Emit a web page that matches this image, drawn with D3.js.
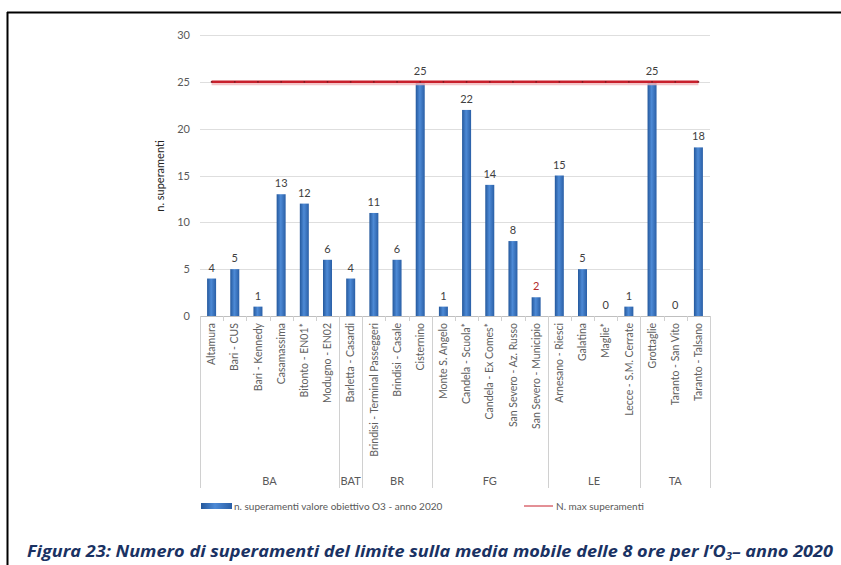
<!DOCTYPE html>
<html><head><meta charset="utf-8">
<script src="https://cdnjs.cloudflare.com/ajax/libs/d3/7.8.5/d3.min.js"></script>
<style>body{margin:0;background:#fff}svg{display:block}</style>
</head><body>
<svg id="c" width="841" height="565"></svg>
<script>
const categories = ["Altamura","Bari - CUS","Bari - Kennedy","Casamassima","Bitonto - EN01*","Modugno - EN02",
  "Barletta - Casardi",
  "Brindisi - Terminal Passeggeri","Brindisi - Casale","Cisternino",
  "Monte S. Angelo","Candela - Scuola*","Candela - Ex Comes*","San Severo - Az. Russo","San Severo - Municipio",
  "Arnesano - Riesci","Galatina","Maglie*","Lecce - S.M. Cerrate",
  "Grottaglie","Taranto - San Vito","Taranto - Talsano"];
const values = [4,5,1,13,12,6,4,11,6,25,1,22,14,8,2,15,5,0,1,25,0,18];
const groups = ["BA","BAT","BR","FG","LE","TA"];
const groupSizes = [6,1,3,5,4,3];
const maxLimit = 25;
const yTicks = [0,5,10,15,20,25,30];
const redLabels = ["San Severo - Municipio"];
const seriesName = "n. superamenti valore obiettivo O3 - anno 2020";
const limitName = "N. max superamenti";
const yTitle = "n. superamenti";

const svg = d3.select("#c");
const defs = svg.append("defs");
const g1 = defs.append("linearGradient").attr("id","barg").attr("x1","0").attr("x2","1").attr("y1","0").attr("y2","0");
g1.append("stop").attr("offset","0").attr("stop-color","#24589c");
g1.append("stop").attr("offset","0.45").attr("stop-color","#4d8ad6");
g1.append("stop").attr("offset","1").attr("stop-color","#2a5fa6");

const L = 200, R = 710, T = 35, B = 316;
const x = d3.scaleBand().domain(categories).range([L,R]).paddingInner(0).paddingOuter(0);
const y = d3.scaleLinear().domain([0,30]).range([B,T]);
const font = "Lato, 'Open Sans', sans-serif";

// frame
svg.append("line").attr("x1",7).attr("x2",841).attr("y1",12.5).attr("y2",12.5).attr("stroke","#000").attr("stroke-width",2);
svg.append("line").attr("x1",7.5).attr("x2",7.5).attr("y1",12).attr("y2",565).attr("stroke","#000").attr("stroke-width",2);

// grid
svg.append("g").selectAll("line").data(yTicks).join("line")
  .attr("x1",L).attr("x2",R).attr("y1",d=>Math.round(y(d))+0.5).attr("y2",d=>Math.round(y(d))+0.5)
  .attr("stroke",d=>d===0?"#bfbfbf":"#dedede").attr("stroke-width",1);

const yAxis = d3.axisLeft(y).tickValues(yTicks).tickSize(0).tickPadding(10);
const ya = svg.append("g").attr("transform",`translate(${L},0)`).call(yAxis);
ya.select(".domain").remove();
ya.selectAll("text").attr("font-family",font).attr("font-size",11).attr("fill","#595959");

svg.append("text").attr("transform",`translate(164,176) rotate(-90)`).attr("text-anchor","middle")
  .attr("font-family",font).attr("font-size",11).attr("fill","#222").text(yTitle);

// bars
const bw = 9;
svg.append("g").selectAll("rect").data(categories).join("rect")
  .attr("x",(d)=>x(d)+x.bandwidth()/2-bw/2).attr("width",bw)
  .attr("y",(d,i)=>y(values[i])).attr("height",(d,i)=>B-y(values[i]))
  .attr("fill","url(#barg)");

// value labels
svg.append("g").selectAll("text").data(categories).join("text")
  .attr("x",d=>x(d)+x.bandwidth()/2).attr("y",(d,i)=>y(values[i])-7)
  .attr("text-anchor","middle").attr("font-family",font).attr("font-size",11)
  .attr("fill",d=>redLabels.includes(d)?"#b02a2a":"#404040")
  .text((d,i)=>values[i]);

// limit line
const first = categories[0], last = categories[categories.length-1];
const lx1 = x(first)+x.bandwidth()/2, lx2 = x(last)+x.bandwidth()/2;
svg.append("line").attr("x1",lx1).attr("x2",lx2).attr("y1",y(maxLimit)+1.8).attr("y2",y(maxLimit)+1.8)
  .attr("stroke","#f2b8bc").attr("stroke-width",3).attr("opacity",0.8);
svg.append("line").attr("x1",lx1).attr("x2",lx2).attr("y1",y(maxLimit)).attr("y2",y(maxLimit))
  .attr("stroke","#c8202c").attr("stroke-width",2.5);
svg.append("g").selectAll("circle").data(categories).join("circle")
  .attr("cx",d=>x(d)+x.bandwidth()/2).attr("cy",y(maxLimit)).attr("r",0.9).attr("fill","#7a1a20");

// category ticks
svg.append("g").selectAll("line").data(categories.slice(1)).join("line")
  .attr("x1",d=>Math.round(x(d))+0.5).attr("x2",d=>Math.round(x(d))+0.5).attr("y1",B).attr("y2",B+5)
  .attr("stroke","#d0d0d0");

// category labels
svg.append("g").selectAll("text").data(categories).join("text")
  .attr("transform",d=>`translate(${x(d)+x.bandwidth()/2},${B+7}) rotate(-90)`)
  .attr("text-anchor","end").attr("dy","0.35em")
  .attr("font-family",font).attr("font-size",10.5).attr("fill","#606060")
  .text(d=>d);

// group separators and labels
let idx = 0;
const bounds = [0];
groupSizes.forEach(s=>{ idx+=s; bounds.push(idx); });
svg.append("g").selectAll("line").data(bounds).join("line")
  .attr("x1",b=>Math.round(b===categories.length?R:x(categories[b]))+0.5)
  .attr("x2",b=>Math.round(b===categories.length?R:x(categories[b]))+0.5)
  .attr("y1",B).attr("y2",488).attr("stroke","#d0d0d0");
svg.append("g").selectAll("text").data(groups).join("text")
  .attr("x",(gname,i)=>{
    const a = x(categories[bounds[i]]);
    const b = bounds[i+1]===categories.length?R:x(categories[bounds[i+1]]);
    return (a+b)/2;})
  .attr("y",485).attr("text-anchor","middle")
  .attr("font-family",font).attr("font-size",11).attr("fill","#595959")
  .text(d=>d);

// legend
svg.append("rect").attr("x",201).attr("y",503).attr("width",31).attr("height",6).attr("fill","url(#barg)");
svg.append("text").attr("x",234).attr("y",509.5).attr("font-family",font).attr("font-size",10).attr("fill","#595959").text(seriesName);
svg.append("line").attr("x1",524).attr("x2",553).attr("y1",506).attr("y2",506).attr("stroke","#c8202c").attr("stroke-width",1);
svg.append("text").attr("x",556).attr("y",509.5).attr("font-family",font).attr("font-size",10).attr("fill","#595959").text(limitName);

// caption
const cap = svg.append("text").attr("x",27).attr("y",557)
  .attr("font-family","'Open Sans', Lato, sans-serif").attr("font-size",16).attr("font-weight","bold").attr("font-style","italic")
  .attr("fill","#1a3263").attr("textLength",806).attr("lengthAdjust","spacingAndGlyphs");
cap.append("tspan").text("Figura 23: Numero di superamenti del limite sulla media mobile delle 8 ore per l’O");
cap.append("tspan").attr("font-size",10).attr("dy",3).text("3");
cap.append("tspan").attr("dy",-3).text("– anno 2020");
</script>
</body></html>
